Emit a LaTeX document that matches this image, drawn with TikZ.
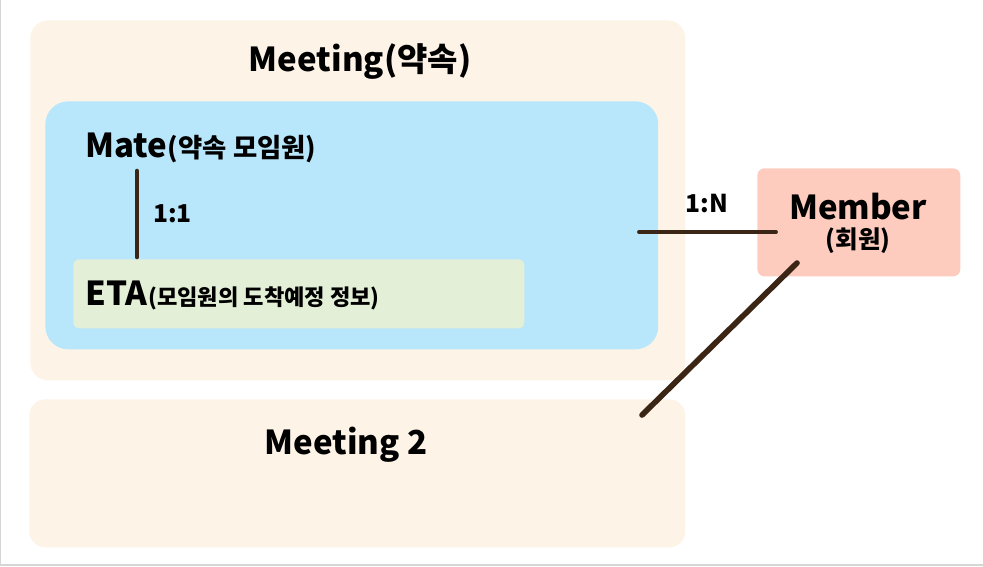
\documentclass[tikz,border=0pt]{standalone}
\usepackage{fontspec}
\setmainfont{Noto Sans CJK KR}
\usetikzlibrary{positioning}
\definecolor{cream}{HTML}{FDF3E7}
\definecolor{sky}{HTML}{B8E6FB}
\definecolor{sage}{HTML}{E3EFD6}
\definecolor{salmon}{HTML}{FDCCBE}
\definecolor{linebrown}{HTML}{3B2616}
\definecolor{framegray}{HTML}{D6D6D6}

\begin{document}
\begin{tikzpicture}[
        x=0.02cm, y=-0.02cm,
        box/.style={inner sep=0pt, anchor=north west},
        link/.style={draw=linebrown, line width=2.6pt, line cap=round},
        big/.style={font=\bfseries\fontsize{18.8}{22}\selectfont, inner sep=0pt},
        mid/.style={font=\bfseries\fontsize{15}{18}\selectfont, inner sep=0pt},
        small/.style={font=\bfseries\fontsize{14}{17}\selectfont, inner sep=0pt},
        tiny/.style={font=\bfseries\fontsize{12.6}{15}\selectfont, inner sep=0pt}
        ]

        \useasboundingbox (0,0) rectangle (983,566);
        \draw[framegray, line width=1pt] (0.5,0) -- (0.5,565) -- (983,565);

        % boxes
        \node[box, fill=cream, rounded corners=10pt, minimum width=13.1cm, minimum height=7.2cm]   (meeting)  at (30,20)   {};
        \node[box, fill=sky, rounded corners=13pt, minimum width=12.26cm, minimum height=4.96cm]   (mate)     at (45,101)  {};
        \node[box, fill=sage, rounded corners=3pt, minimum width=9.02cm, minimum height=1.38cm]    (eta)      at (73,259)  {};
        \node[box, fill=cream, rounded corners=9pt, minimum width=13.12cm, minimum height=2.96cm]  (meeting2) at (29,399)  {};
        \node[box, fill=salmon, rounded corners=4pt, minimum width=4.06cm, minimum height=2.16cm]  (member)   at (757,168) {};

        % texts
        \node[big, anchor=base]       (meetingtxt)  at (360,71)  {Meeting(약속)};
        \node[big, anchor=base west]  (matetxt)     at (85,157)  {Mate};
        \node[mid, anchor=base west]  (matesub)     at (matetxt.base east) {(약속 모임원)};
        \node[big, anchor=base west]  (etatxt)      at (85,305)  {ETA};
        \node[tiny, anchor=base west] (etasub)      at (etatxt.base east)  {(모임원의 도착예정 정보)};
        \node[big, anchor=base]       (meeting2txt) at (346,454) {Meeting 2};
        \node[big, anchor=base]       (membertxt)   at (858,219) {Member};
        \node[small, anchor=base]     (membersub)   at (858,248) {(회원)};

        % connectors
        \coordinate (mateend)   at (137,171);
        \coordinate (etaend)    at (137,257);
        \coordinate (meetend)   at (639,232);
        \coordinate (memend)    at (776,232);
        \coordinate (memlow)    at (797,263);
        \coordinate (meet2end)  at (642,415);

        \draw[link] (mateend) -- node[small, right=8pt, anchor=west] (oneone) {1:1} (etaend);
        \draw[link, line width=2.2pt] (meetend) -- (memend);
        \node[small, anchor=base] (onen) at (707,212) {1:N};
        \draw[link, line width=3.2pt] (memlow) -- (meet2end);
      \end{tikzpicture}
\end{document}
